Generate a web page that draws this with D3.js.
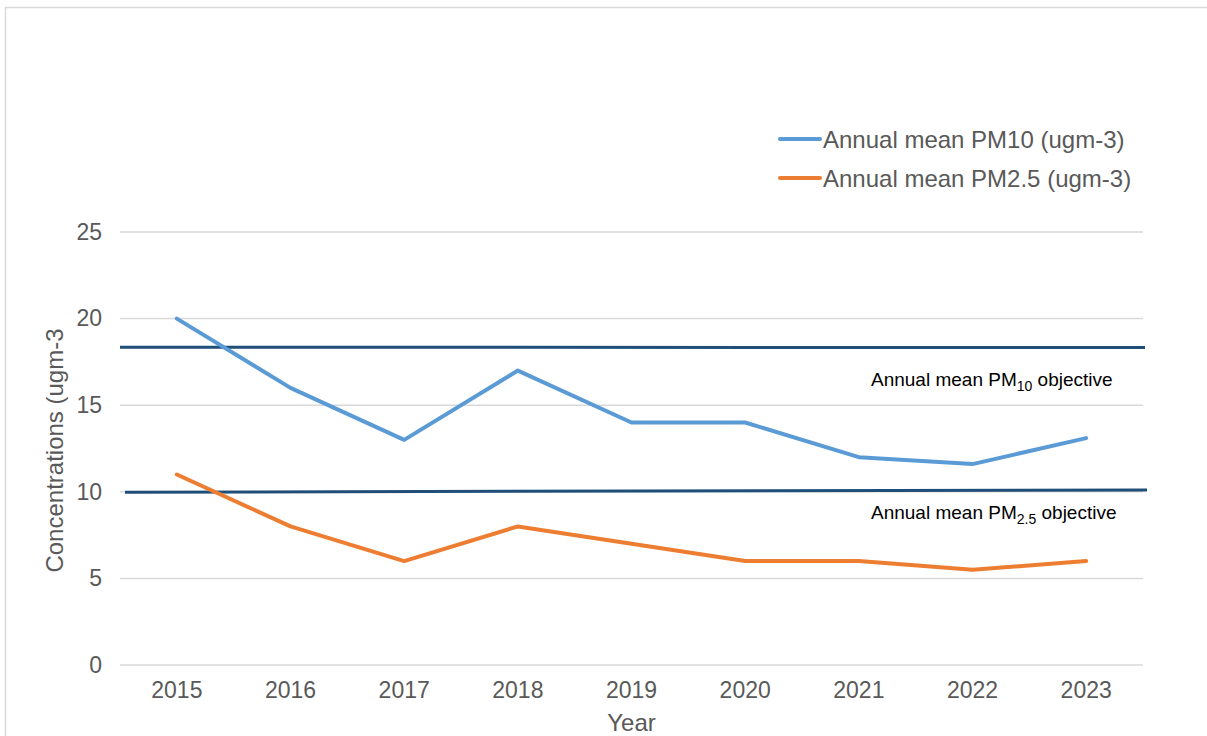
<!DOCTYPE html>
<html>
<head>
<meta charset="utf-8">
<script src="https://cdn.jsdelivr.net/npm/d3@7"></script>
<style>
  body { margin: 0; background: #fff; }
  svg { display: block; font-family: "Liberation Sans", Arial, sans-serif; }
</style>
</head>
<body>
<div id="chart"></div>
<script>
const years = ["2015", "2016", "2017", "2018", "2019", "2020", "2021", "2022", "2023"];
const pm10 = [20, 16, 13, 17, 14, 14, 12, 11.6, 13.1];
const pm25 = [11, 8, 6, 8, 7, 6, 6, 5.5, 6];
const yTicks = [0, 5, 10, 15, 20, 25];
// objective lines: [value at left end, value at right end]
const pm10Objective = [18.35, 18.33];
const pm25Objective = [9.98, 10.1];

const W = 1207, H = 736;
const plot = { left: 120, right: 1143, top: 232, bottom: 665 };

const svg = d3.select('#chart').append('svg')
    .attr('width', W)
    .attr('height', H);

// outer frame
svg.append('path')
    .attr('d', `M5.5,${H} V7.5 H${W}`)
    .attr('fill', 'none')
    .attr('stroke', '#d9d9d9')
    .attr('stroke-width', 1.5);

const xScale = d3.scaleBand()
    .domain(years)
    .range([plot.left, plot.right]);

const yScale = d3.scaleLinear()
    .domain([0, 25])
    .range([plot.bottom, plot.top]);

const xMid = d => xScale(d) + xScale.bandwidth() / 2;

// gridlines
svg.append('g')
    .selectAll('line')
    .data(yTicks)
    .enter()
    .append('line')
    .attr('x1', plot.left)
    .attr('x2', plot.right)
    .attr('y1', d => yScale(d))
    .attr('y2', d => yScale(d))
    .attr('stroke', '#d9d9d9')
    .attr('stroke-width', 1.5);

// y axis labels
const yAxis = d3.axisLeft(yScale).tickValues(yTicks).tickSize(0).tickPadding(18);
const yAxisGroup = svg.append('g')
    .attr('transform', `translate(${plot.left}, 0)`)
    .call(yAxis);
yAxisGroup.select('.domain').remove();
yAxisGroup.selectAll('text')
    .attr('fill', '#595959')
    .style('font-size', '23px')
    .style('font-family', '"Liberation Sans", Arial, sans-serif');

// x axis labels
const xAxis = d3.axisBottom(xScale).tickSize(0).tickPadding(17);
const xAxisGroup = svg.append('g')
    .attr('transform', `translate(0, ${plot.bottom})`)
    .call(xAxis);
xAxisGroup.select('.domain').remove();
xAxisGroup.selectAll('text')
    .attr('fill', '#595959')
    .style('font-size', '23px')
    .style('font-family', '"Liberation Sans", Arial, sans-serif');

// axis titles
svg.append('text')
    .attr('transform', `translate(63, ${(plot.top + plot.bottom) / 2 + 2}) rotate(-90)`)
    .attr('text-anchor', 'middle')
    .attr('fill', '#595959')
    .style('font-size', '24px')
    .text('Concentrations (ugm-3');

svg.append('text')
    .attr('x', (plot.left + plot.right) / 2)
    .attr('y', 731)
    .attr('text-anchor', 'middle')
    .attr('fill', '#595959')
    .style('font-size', '24px')
    .text('Year');

// objective lines
svg.append('line')
    .attr('x1', plot.left)
    .attr('x2', plot.right + 2)
    .attr('y1', yScale(pm10Objective[0]))
    .attr('y2', yScale(pm10Objective[1]))
    .attr('stroke', '#1f4e79')
    .attr('stroke-width', 3);

svg.append('line')
    .attr('x1', plot.left + 5)
    .attr('x2', plot.right + 4)
    .attr('y1', yScale(pm25Objective[0]))
    .attr('y2', yScale(pm25Objective[1]))
    .attr('stroke', '#1f4e79')
    .attr('stroke-width', 3);

// objective labels
const objLabel = (y, sub) => {
    const t = svg.append('text')
        .attr('x', 871)
        .attr('y', y)
        .attr('fill', '#000')
        .style('font-size', '19px');
    t.append('tspan').text('Annual mean PM');
    t.append('tspan').attr('dy', 5).style('font-size', '14px').text(sub);
    t.append('tspan').attr('dy', -5).text(' objective');
};
objLabel(386, '10');
objLabel(519, '2.5');

// series lines
const line = d3.line()
    .x((d, i) => xMid(years[i]))
    .y(d => yScale(d));

svg.append('path')
    .datum(pm10)
    .attr('fill', 'none')
    .attr('stroke', '#5b9bd5')
    .attr('stroke-width', 4)
    .attr('stroke-linejoin', 'round')
    .attr('stroke-linecap', 'round')
    .attr('d', line);

svg.append('path')
    .datum(pm25)
    .attr('fill', 'none')
    .attr('stroke', '#ed7d31')
    .attr('stroke-width', 4)
    .attr('stroke-linejoin', 'round')
    .attr('stroke-linecap', 'round')
    .attr('d', line);

// legend
const legendItems = [
    { name: 'Annual mean PM10 (ugm-3)', color: '#5b9bd5' },
    { name: 'Annual mean PM2.5 (ugm-3)', color: '#ed7d31' }
];
const legend = svg.selectAll('.legend')
    .data(legendItems)
    .enter()
    .append('g')
    .attr('class', 'legend')
    .attr('transform', (d, i) => `translate(780, ${139 + i * 39})`);

legend.append('line')
    .attr('x1', 0)
    .attr('x2', 40)
    .attr('stroke', d => d.color)
    .attr('stroke-width', 4)
    .attr('stroke-linecap', 'round');

legend.append('text')
    .attr('x', 43)
    .attr('y', 8.5)
    .attr('fill', '#595959')
    .style('font-size', '24px')
    .text(d => d.name);
</script>
</body>
</html>
